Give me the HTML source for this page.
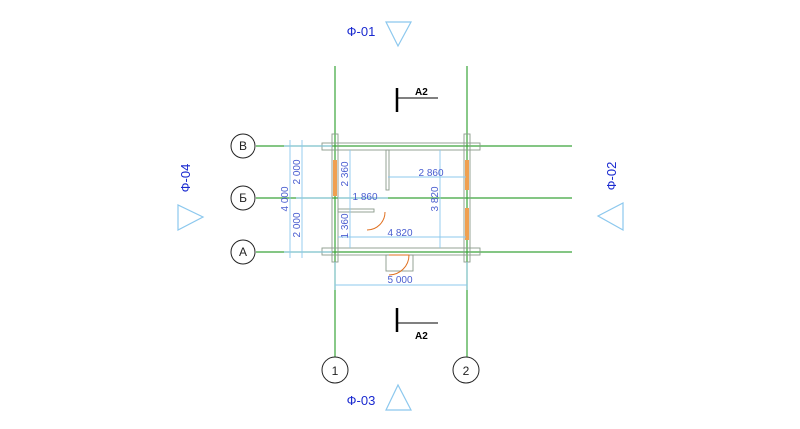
<!DOCTYPE html>
<html><head><meta charset="utf-8"><style>
html,body{margin:0;padding:0;background:#fff;width:800px;height:429px;overflow:hidden}
svg{display:block}
text{font-family:"Liberation Sans",sans-serif}
</style></head><body>
<svg width="800" height="429" viewBox="0 0 800 429">
<g stroke="#3aa53a" stroke-width="1.2">
<line x1="335" y1="66" x2="335" y2="357"/>
<line x1="467" y1="66" x2="467" y2="357"/>
<line x1="256" y1="146" x2="572" y2="146"/>
<line x1="256" y1="198" x2="572" y2="198"/>
<line x1="256" y1="252" x2="572" y2="252"/>
</g>
<g fill="none" stroke="#8a9a8a" stroke-width="0.9">
<rect x="322" y="143" width="158" height="7"/>
<rect x="322" y="248" width="158" height="7"/>
<rect x="332" y="134" width="6" height="128"/>
<rect x="464" y="134" width="6" height="128"/>
<rect x="386" y="150" width="3" height="40"/>
<rect x="338" y="209" width="36" height="3"/>
<rect x="386" y="255" width="27" height="16"/>
</g>
<g fill="#f0a050">
<rect x="333" y="160" width="4" height="36"/>
<rect x="465" y="160" width="4" height="30"/>
<rect x="465" y="208" width="4" height="32"/>
</g>
<g fill="none" stroke="#e07020" stroke-width="1">
<path d="M367 230 A18 18 0 0 0 385 212"/>
<line x1="389" y1="255" x2="409" y2="255"/>
<path d="M389 275 A20 20 0 0 0 409 255"/>
</g>
<g stroke="#8cc8ee" stroke-width="0.9" fill="none">
<line x1="290" y1="140" x2="290" y2="258"/>
<line x1="302" y1="140" x2="302" y2="258"/>
<line x1="284" y1="146" x2="332" y2="146"/>
<line x1="284" y1="252" x2="332" y2="252"/>
<line x1="296" y1="198" x2="332" y2="198"/>
<line x1="350" y1="150" x2="350" y2="248"/>
<line x1="338" y1="198" x2="388" y2="198"/>
<line x1="388" y1="177" x2="466" y2="177"/>
<line x1="440" y1="150" x2="440" y2="248"/>
<line x1="338" y1="237" x2="466" y2="237"/>
<line x1="335" y1="285" x2="467" y2="285"/>
<line x1="335" y1="262" x2="335" y2="290"/>
<line x1="467" y1="262" x2="467" y2="290"/>
</g>
<g fill="#4a5ed0" font-size="10">
<text x="288" y="199" transform="rotate(-90 288 199)" text-anchor="middle">4 000</text>
<text x="300" y="172" transform="rotate(-90 300 172)" text-anchor="middle">2 000</text>
<text x="300" y="225" transform="rotate(-90 300 225)" text-anchor="middle">2 000</text>
<text x="348" y="174" transform="rotate(-90 348 174)" text-anchor="middle">2 360</text>
<text x="348" y="226" transform="rotate(-90 348 226)" text-anchor="middle">1 360</text>
<text x="438" y="199" transform="rotate(-90 438 199)" text-anchor="middle">3 820</text>
<text x="365" y="200" text-anchor="middle">1 860</text>
<text x="431" y="176" text-anchor="middle">2 860</text>
<text x="400" y="236" text-anchor="middle">4 820</text>
<text x="400" y="283" text-anchor="middle">5 000</text>
</g>
<g fill="#fff" stroke="#222" stroke-width="1">
<circle cx="243" cy="146" r="12"/><circle cx="243" cy="198" r="12"/><circle cx="243" cy="252" r="12"/>
<circle cx="335" cy="370" r="13"/><circle cx="466" cy="370" r="13"/>
</g>
<g fill="#222" font-size="12" text-anchor="middle">
<text x="243" y="150">В</text><text x="243" y="202">Б</text><text x="243" y="256">А</text>
<text x="335" y="375">1</text><text x="466" y="375">2</text>
</g>
<g fill="none" stroke="#8cc8ee" stroke-width="1.2">
<polygon points="386,22 411,22 398,46"/>
<polygon points="386,410 411,410 398,385"/>
<polygon points="178,205 178,230 203,217"/>
<polygon points="623,203 623,230 598,216"/>
</g>
<g fill="#1a2ad0" font-size="13" text-anchor="middle">
<text x="361" y="36">Ф-01</text>
<text x="361" y="405">Ф-03</text>
<text x="190" y="178" transform="rotate(-90 190 178)">Ф-04</text>
<text x="616" y="176" transform="rotate(-90 616 176)">Ф-02</text>
</g>
<g stroke="#000">
<line x1="397" y1="88" x2="397" y2="112" stroke-width="2.5"/>
<line x1="397" y1="98" x2="438" y2="98" stroke-width="1"/>
<line x1="397" y1="308" x2="397" y2="332" stroke-width="2.5"/>
<line x1="397" y1="323" x2="438" y2="323" stroke-width="1"/>
</g>
<g font-size="10" font-weight="bold" fill="#000">
<text x="415" y="95">A2</text><text x="415" y="339">A2</text>
</g>
</svg>
</body></html>
